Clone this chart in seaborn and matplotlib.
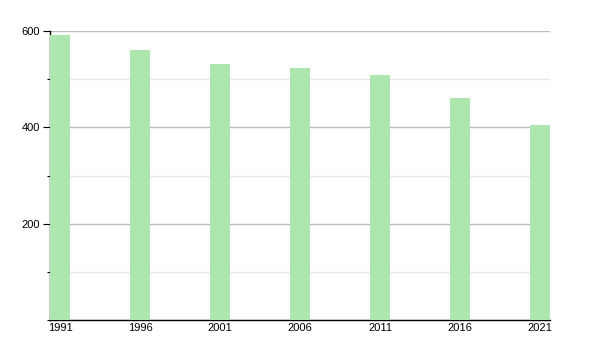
import matplotlib
matplotlib.use("Agg")
import matplotlib.pyplot as plt
import seaborn as sns
import pandas as pd
from matplotlib.ticker import MultipleLocator

years = ["1991", "1996", "2001", "2006", "2011", "2016", "2021"]
population = [592, 560, 531, 523, 508, 461, 405]

sns.set_style("white")
plt.rcParams['font.family'] = ['Liberation Sans', 'DejaVu Sans']

df = pd.DataFrame({"year": years, "population": population})

fig = plt.figure(figsize=(6, 3.5), dpi=100)
ax = fig.add_axes([50/600, 1 - 320/350, 500/600, 289/350])

sns.barplot(data=df, x="year", y="population", color="#ade6af", saturation=1,
            width=0.25, ax=ax, zorder=3, linewidth=0, edgecolor="none")

ax.set_xlim(-0.125, 6.125)
ax.set_ylim(0, 600)
ax.yaxis.set_major_locator(MultipleLocator(200))
ax.yaxis.set_minor_locator(MultipleLocator(100))
ax.set_yticks([200, 400, 600])
ax.grid(axis="y", which="major", color="#bdbdbd", linewidth=1, zorder=0)
ax.grid(axis="y", which="minor", color="#e8e8e8", linewidth=1, zorder=0)
ax.set_axisbelow(True)

for s in ["top", "right"]:
    ax.spines[s].set_visible(False)
for s in ["left", "bottom"]:
    ax.spines[s].set_color("black")
    ax.spines[s].set_linewidth(1)

ax.tick_params(axis="y", which="major", length=5, width=0.8, color="black",
               labelsize=8, labelcolor="black", left=True, pad=2)
ax.tick_params(axis="y", which="minor", length=2.5, width=0.8, color="black", left=True)
ax.tick_params(axis="x", length=0, labelsize=8, labelcolor="black", pad=2)
ax.set_xlabel("")
ax.set_ylabel("")

fig.savefig("out.png", dpi=100)
